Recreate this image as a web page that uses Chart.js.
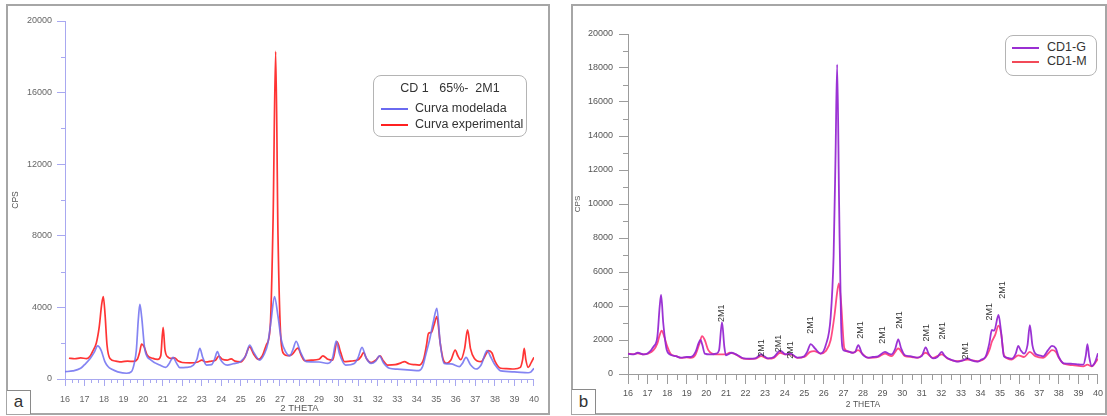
<!DOCTYPE html>
<html>
<head>
<meta charset="utf-8">
<script src="https://cdn.jsdelivr.net/npm/chart.js@4.4.1/dist/chart.umd.min.js"></script>
<style>
  html,body{margin:0;padding:0;background:#fff;width:1107px;height:416px;overflow:hidden;font-family:"Liberation Sans",Arial,sans-serif;}
  .frame{position:absolute;box-sizing:border-box;border:2px solid #a6a6a6;}
  canvas{position:absolute;}
  .lg{position:absolute;box-sizing:border-box;border:1px solid #b4b4b4;border-radius:8px;background:#fff;color:#333;}
  .lg .row{position:absolute;white-space:pre;}
  .lg .sw{position:absolute;height:2px;}
  .tag{position:absolute;box-sizing:border-box;border:1.5px solid #8a8a8a;border-left:none;border-bottom:none;font-size:17px;color:#333;text-align:center;background:#fff;}
</style>
</head>
<body>
<div class="frame" style="left:6px;top:4px;width:544px;height:411px;"></div>
<div class="frame" style="left:571px;top:4px;width:536px;height:411px;"></div>
<canvas id="cA" width="538" height="406" style="left:9px;top:7px;"></canvas>
<canvas id="cB" width="533" height="406" style="left:574px;top:7px;"></canvas>
<div id="legA" class="lg" style="left:373px;top:75px;width:154px;height:62px;"></div>
<div id="legB" class="lg" style="left:1005px;top:35px;width:92px;height:41px;"></div>
<div class="tag" style="left:7px;top:390px;width:24px;height:24px;line-height:22px;">a</div>
<div class="tag" style="left:572px;top:389px;width:24px;height:25px;line-height:23px;">b</div>
<script>
// ---------- Panel a : CD 1 65%- 2M1 ----------
const modTheta = [
  16.0, 16.4, 16.8, 17.0, 17.3, 17.5, 17.67, 17.85, 18.04, 18.2,
  18.4, 18.7, 19.15, 19.4, 19.55, 19.65, 19.75, 19.83, 19.92, 20.09,
  20.4, 20.85, 21.16, 21.35, 21.53, 21.7, 21.87, 22.2, 22.57, 22.75,
  22.9, 23.05, 23.24, 23.5, 23.65, 23.8, 23.95, 24.3, 24.6, 24.98,
  25.25, 25.45, 25.65, 25.96, 26.2, 26.38, 26.55, 26.72, 26.9, 27.07,
  27.3, 27.5, 27.65, 27.83, 28.05, 28.35, 29.0, 29.45, 29.7, 29.88,
  30.05, 30.36, 30.8, 31.0, 31.2, 31.4, 31.66, 31.9, 32.09, 32.3,
  32.6, 33.0, 33.7, 34.1, 34.3, 34.47, 34.66, 34.85, 35.03, 35.2,
  35.4, 35.75, 36.18, 36.35, 36.52, 36.75, 37.03, 37.3, 37.6, 37.8,
  38.0, 38.3, 39.0, 39.7, 39.85, 40.0];
const modCps = [
  410, 450, 600, 800, 1160, 1500, 1850, 1600, 970, 700,
  540, 400, 320, 410, 900, 1600, 3300, 4170, 3500, 1620,
  1060, 780, 650, 900, 1210, 900, 640, 650, 780, 1100,
  1710, 1200, 780, 800, 1100, 1530, 1100, 780, 850, 970,
  1300, 1900, 1500, 1060, 1400, 1990, 3300, 4600, 3500, 2180,
  1500, 1290, 1600, 2100, 1500, 970, 950, 870, 1200, 2120,
  1400, 780, 870, 1200, 1770, 1200, 870, 1000, 1290, 900,
  600, 550, 500, 465, 700, 1400, 2200, 3200, 3950, 2000,
  870, 840, 690, 900, 1210, 800, 560, 800, 1580, 1200,
  800, 450, 400, 350, 400, 600];
const expTheta = [
  16.2, 16.5, 16.8, 17.1, 17.3, 17.45, 17.6, 17.75, 17.88, 17.96,
  18.05, 18.15, 18.3, 18.6, 18.9, 19.2, 19.5, 19.7, 19.82, 19.92,
  20.05, 20.2, 20.5, 20.75, 20.9, 21.02, 21.12, 21.3, 21.45, 21.6,
  21.8, 22.0, 22.4, 22.8, 23.0, 23.2, 23.5, 23.7, 23.87, 24.05,
  24.3, 24.5, 24.7, 25.0, 25.2, 25.45, 25.65, 25.9, 26.1, 26.3,
  26.5, 26.65, 26.78, 26.9, 27.05, 27.2, 27.4, 27.6, 27.92, 28.1,
  28.26, 28.6, 29.0, 29.2, 29.45, 29.7, 29.93, 30.1, 30.3, 30.6,
  30.98, 31.15, 31.27, 31.45, 31.66, 31.9, 32.12, 32.3, 32.5, 32.9,
  33.2, 33.37, 33.6, 33.9, 34.13, 34.35, 34.5, 34.6, 34.75, 34.88,
  35.03, 35.2, 35.35, 35.5, 35.75, 35.97, 36.1, 36.25, 36.45, 36.6,
  36.75, 36.95, 37.3, 37.5, 37.67, 37.85, 38.0, 38.3, 38.6, 38.98,
  39.3, 39.42, 39.5, 39.58, 39.7, 39.85, 40.0];
const expCps = [
  1160, 1130, 1180, 1140, 1300, 1620, 2000, 2900, 4200, 4600,
  3600, 1900, 1150, 1000, 960, 1000, 980, 1100, 1500, 1950,
  1800, 1350, 1150, 1100, 1300, 2880, 1600, 1200, 1150, 1180,
  1000, 920, 900, 950, 1050, 950, 1000, 1050, 1280, 1100,
  1050, 1120, 1000, 960, 1200, 1800, 1400, 1100, 1300, 1900,
  2900, 9000, 18300, 8000, 2200, 1400, 1300, 1350, 1720, 1300,
  1020, 1050, 1100, 1290, 1100, 1050, 2080, 1500, 970, 1000,
  1060, 1250, 1470, 1100, 910, 1050, 1290, 1000, 780, 800,
  900, 970, 850, 800, 780, 1100, 1900, 2550, 2600, 3000,
  3480, 2000, 1100, 880, 1060, 1620, 1300, 1080, 1700, 2740,
  1700, 1150, 970, 1300, 1580, 1450, 1000, 600, 580, 560,
  650, 1100, 1710, 1100, 650, 900, 1210];

// ---------- Panel b : CD1-G / CD1-M ----------
const gTheta = [
  16.0, 16.3, 16.5, 16.8, 17.0, 17.3, 17.5, 17.62, 17.69, 17.8,
  17.98, 18.2, 18.45, 18.7, 19.0, 19.2, 19.45, 19.6, 19.7, 19.8,
  19.92, 20.2, 20.5, 20.65, 20.8, 20.92, 21.0, 21.3, 21.6, 21.9,
  22.2, 22.5, 22.8, 22.95, 23.15, 23.45, 23.77, 24.05, 24.3, 24.65,
  25.0, 25.15, 25.33, 25.55, 25.84, 26.1, 26.35, 26.5, 26.6, 26.68,
  26.78, 26.88, 27.0, 27.2, 27.45, 27.6, 27.76, 27.95, 28.26, 28.5,
  28.77, 29.12, 29.3, 29.46, 29.65, 29.8, 29.95, 30.14, 30.4, 30.73,
  31.0, 31.2, 31.35, 31.57, 31.8, 32.02, 32.15, 32.33, 32.6, 32.85,
  33.1, 33.34, 33.55, 33.85, 34.05, 34.27, 34.45, 34.58, 34.7, 34.92,
  35.05, 35.2, 35.4, 35.6, 35.8, 35.93, 36.05, 36.22, 36.4, 36.52,
  36.65, 36.8, 37.0, 37.2, 37.45, 37.65, 37.85, 38.0, 38.25, 38.7,
  39.0, 39.25, 39.38, 39.46, 39.55, 39.68, 39.85, 40.0];
const gCps = [
  1180, 1150, 1250, 1150, 1200, 1600, 2200, 4000, 4650, 3000,
  1410, 1120, 1050, 960, 1000, 1000, 1300, 1800, 2000, 1700,
  1200, 1150, 1200, 1400, 3050, 1600, 1100, 1250, 1100, 920,
  900, 920, 1160, 1050, 920, 1000, 1370, 1160, 1200, 960,
  1050, 1300, 1760, 1500, 1200, 1700, 3370, 7000, 13000, 18200,
  10000, 3000, 1400, 1350, 1250, 1300, 1700, 1200, 960, 1000,
  1040, 1300, 1200, 1150, 1500, 2040, 1500, 1100, 1050, 960,
  1050, 1570, 1200, 920, 1000, 1300, 1100, 920, 800, 725,
  800, 920, 800, 725, 850, 1040, 1800, 2590, 2550, 3470,
  2500, 1040, 950, 900, 1200, 1650, 1400, 1200, 1700, 2880,
  1700, 1200, 1100, 1040, 1400, 1650, 1500, 1000, 630, 600,
  560, 550, 1100, 1760, 1000, 470, 700, 1220];
const mTheta = [
  16.0, 16.3, 16.5, 16.8, 17.0, 17.3, 17.5, 17.62, 17.72, 17.85,
  17.98, 18.2, 18.45, 18.7, 19.0, 19.2, 19.45, 19.65, 19.78, 19.92,
  20.1, 20.3, 20.5, 20.8, 21.0, 21.2, 21.5, 21.9, 22.2, 22.5,
  22.8, 23.15, 23.45, 23.77, 24.05, 24.3, 24.65, 25.0, 25.3, 25.5,
  25.84, 26.1, 26.35, 26.55, 26.68, 26.77, 26.88, 27.05, 27.3, 27.5,
  27.75, 28.0, 28.26, 28.77, 29.12, 29.46, 29.8, 30.14, 30.5, 30.8,
  31.2, 31.57, 32.02, 32.33, 32.85, 33.34, 33.85, 34.27, 34.45, 34.58,
  34.75, 34.92, 35.05, 35.2, 35.6, 35.93, 36.22, 36.52, 36.8, 37.2,
  37.45, 37.65, 37.85, 38.0, 38.25, 38.7, 39.25, 39.46, 39.68, 40.0];
const mCps = [
  1200, 1170, 1220, 1160, 1200, 1400, 1800, 2300, 2550, 2200,
  1700, 1150, 1050, 950, 980, 950, 1150, 1800, 2230, 2000,
  1400, 1200, 1150, 1150, 1150, 1250, 1150, 900, 880, 900,
  1050, 900, 950, 1250, 1150, 1150, 950, 1000, 1300, 1350,
  1200, 1350, 2000, 3500, 4800, 5330, 4200, 1500, 1300, 1250,
  1400, 1150, 950, 1000, 1200, 1050, 1500, 1050, 1000, 950,
  1250, 950, 1150, 900, 750, 850, 750, 1000, 1400, 1900,
  2300, 2850, 2400, 1100, 850, 1100, 1000, 1300, 1050, 950,
  1200, 1400, 1300, 950, 600, 520, 450, 550, 450, 900];

// "2M1" peak labels (theta, CPS at label centre)
const annTheta = [20.8, 22.8, 23.69, 24.32, 25.33, 27.85, 28.98, 29.84, 31.23, 32.07, 33.26, 34.44, 35.1];
const annCps   = [3570, 1530, 1800, 1410, 2880, 2590, 2290, 3180, 2430, 2550, 1370, 3660, 4940];
const annText  = ['2M1','2M1','2M1','2M1','2M1','2M1','2M1','2M1','2M1','2M1','2M1','2M1','2M1'];

const legendATitle = 'CD 1   65%-  2M1';
const seriesA = ['Curva modelada', 'Curva experimental'];
const seriesB = ['CD1-G', 'CD1-M'];

const xyOf = (xs, ys) => xs.map((x, i) => ({x: x, y: ys[i]}));
const plainNum = v => String(v);

Chart.defaults.font.family = '"Liberation Sans", Arial, sans-serif';

const minorTicks = {
  id: 'minorTicks',
  afterDraw(chart, args, o) {
    const ctx = chart.ctx, xs = chart.scales.x, ys = chart.scales.y;
    ctx.save();
    ctx.strokeStyle = o.color; ctx.lineWidth = 1;
    ctx.beginPath();
    for (let i = 0; i <= o.xN; i++) {
      if (i % o.xEvery === 0) continue;
      const v = xs.min + i * (1 / o.xEvery);
      const px = Math.round(xs.getPixelForValue(v)) + 0.5;
      ctx.moveTo(px, ys.bottom); ctx.lineTo(px, ys.bottom + o.xLen);
    }
    for (let v = ys.min; v <= ys.max; v += o.yStep) {
      if (v % o.yMajor === 0) continue;
      const py = Math.round(ys.getPixelForValue(v)) + 0.5;
      ctx.moveTo(xs.left, py); ctx.lineTo(xs.left - o.yLen, py);
    }
    ctx.stroke();
    ctx.restore();
  }
};

const annPlugin = {
  id: 'annPlugin',
  afterDatasetsDraw(chart) {
    const ctx = chart.ctx, xs = chart.scales.x, ys = chart.scales.y;
    ctx.save();
    ctx.font = '9px "Liberation Sans", Arial, sans-serif';
    ctx.fillStyle = '#333';
    ctx.textAlign = 'center'; ctx.textBaseline = 'middle';
    annTheta.forEach((t, i) => {
      ctx.save();
      ctx.translate(xs.getPixelForValue(t), ys.getPixelForValue(annCps[i]));
      ctx.rotate(-Math.PI / 2);
      ctx.fillText(annText[i], 0, 0);
      ctx.restore();
    });
    ctx.restore();
  }
};

function intTicks(s) { const t = []; for (let v = 16; v <= 40; v++) t.push({value: v}); s.ticks = t; }

// ---------- chart a ----------
const axA = '#a8a8f0';
new Chart(document.getElementById('cA'), {
  type: 'line',
  data: { datasets: [
    { label: seriesA[0], data: xyOf(modTheta, modCps), borderColor: 'rgba(110,110,240,0.85)', borderWidth: 1.7 },
    { label: seriesA[1], data: xyOf(expTheta, expCps), borderColor: 'rgba(255,30,30,0.9)', borderWidth: 1.7 }
  ]},
  options: {
    responsive: false, animation: false, devicePixelRatio: 1,
    layout: { padding: { left: 0, right: 12, top: 14, bottom: 0 } },
    elements: { point: { radius: 0 }, line: { cubicInterpolationMode: 'monotone' } },
    plugins: { legend: { display: false }, tooltip: { enabled: false },
      minorTicks: { color: axA, xN: 72, xEvery: 3, xLen: 4, yStep: 2000, yMajor: 4000, yLen: 4 } },
    scales: {
      x: { type: 'linear', min: 16, max: 40,
        afterBuildTicks: intTicks,
        afterFit(s) { s.height = 34; },
        ticks: { autoSkip: false, maxRotation: 0, font: { size: 9 }, color: '#666', padding: 8, callback: plainNum },
        grid: { drawOnChartArea: false, tickLength: 7, color: axA },
        border: { color: axA, width: 1 },
        title: { display: true, text: '2 THETA', font: { size: 9.5, lineHeight: 1 }, color: '#555', padding: { top: 0, bottom: 0 } } },
      y: { min: 0, max: 20000,
        afterFit(s) { s.width = 56; },
        ticks: { stepSize: 4000, font: { size: 9 }, color: '#666', padding: 5, callback: plainNum },
        grid: { drawOnChartArea: false, tickLength: 8, color: axA },
        border: { color: axA, width: 1 },
        title: { display: true, text: 'CPS', font: { size: 8.5, lineHeight: 1 }, color: '#555', padding: { top: 2, bottom: 0 } } }
    }
  },
  plugins: [minorTicks]
});

// ---------- chart b ----------
const axB = '#9c9c9c';
new Chart(document.getElementById('cB'), {
  type: 'line',
  data: { datasets: [
    { label: seriesB[0], data: xyOf(gTheta, gCps), borderColor: 'rgba(150,40,210,0.95)', borderWidth: 1.8 },
    { label: seriesB[1], data: xyOf(mTheta, mCps), borderColor: 'rgba(255,30,100,0.8)', borderWidth: 1.8 }
  ]},
  options: {
    responsive: false, animation: false, devicePixelRatio: 1,
    layout: { padding: { left: 0, right: 5, top: 27, bottom: 0 } },
    elements: { point: { radius: 0 }, line: { cubicInterpolationMode: 'monotone' } },
    plugins: { legend: { display: false }, tooltip: { enabled: false },
      minorTicks: { color: axB, xN: 48, xEvery: 2, xLen: 6, yStep: 1000, yMajor: 2000, yLen: 5 } },
    scales: {
      x: { type: 'linear', min: 16, max: 40,
        afterBuildTicks: intTicks,
        afterFit(s) { s.height = 39; },
        ticks: { autoSkip: false, maxRotation: 0, font: { size: 9 }, color: '#555', padding: 4, callback: plainNum },
        grid: { drawOnChartArea: false, tickLength: 10, color: axB },
        border: { color: axB, width: 1 },
        title: { display: true, text: '2 THETA', font: { size: 8.5, lineHeight: 1 }, color: '#555', padding: { top: 0, bottom: 4 } } },
      y: { min: 0, max: 20000,
        afterFit(s) { s.width = 54; },
        ticks: { stepSize: 2000, font: { size: 9 }, color: '#555', padding: 6, callback: plainNum },
        grid: { drawOnChartArea: false, tickLength: 9, color: axB },
        border: { color: axB, width: 1 },
        title: { display: true, text: 'CPS', font: { size: 8, lineHeight: 1 }, color: '#555', padding: { top: 0, bottom: 0 } } }
    }
  },
  plugins: [minorTicks, annPlugin]
});

// ---------- legends ----------
(function () {
  const a = document.getElementById('legA');
  a.innerHTML =
    '<div class="row" style="left:0;width:152px;text-align:center;top:5px;font-size:12.5px;">' + legendATitle + '</div>' +
    '<div class="sw" style="left:7px;top:32px;width:27px;background:#6a6af0;"></div>' +
    '<div class="row" style="left:41px;top:25px;font-size:12.5px;">' + seriesA[0] + '</div>' +
    '<div class="sw" style="left:7px;top:48px;width:27px;background:#ff2020;"></div>' +
    '<div class="row" style="left:41px;top:41px;font-size:12.5px;">' + seriesA[1] + '</div>';
  const b = document.getElementById('legB');
  b.innerHTML =
    '<div class="sw" style="left:6px;top:11px;width:27px;background:#9a2fd2;"></div>' +
    '<div class="row" style="left:41px;top:4px;font-size:12.5px;">' + seriesB[0] + '</div>' +
    '<div class="sw" style="left:6px;top:25px;width:27px;background:#f24a58;"></div>' +
    '<div class="row" style="left:41px;top:18px;font-size:12.5px;">' + seriesB[1] + '</div>';
})();
</script>
</body>
</html>
